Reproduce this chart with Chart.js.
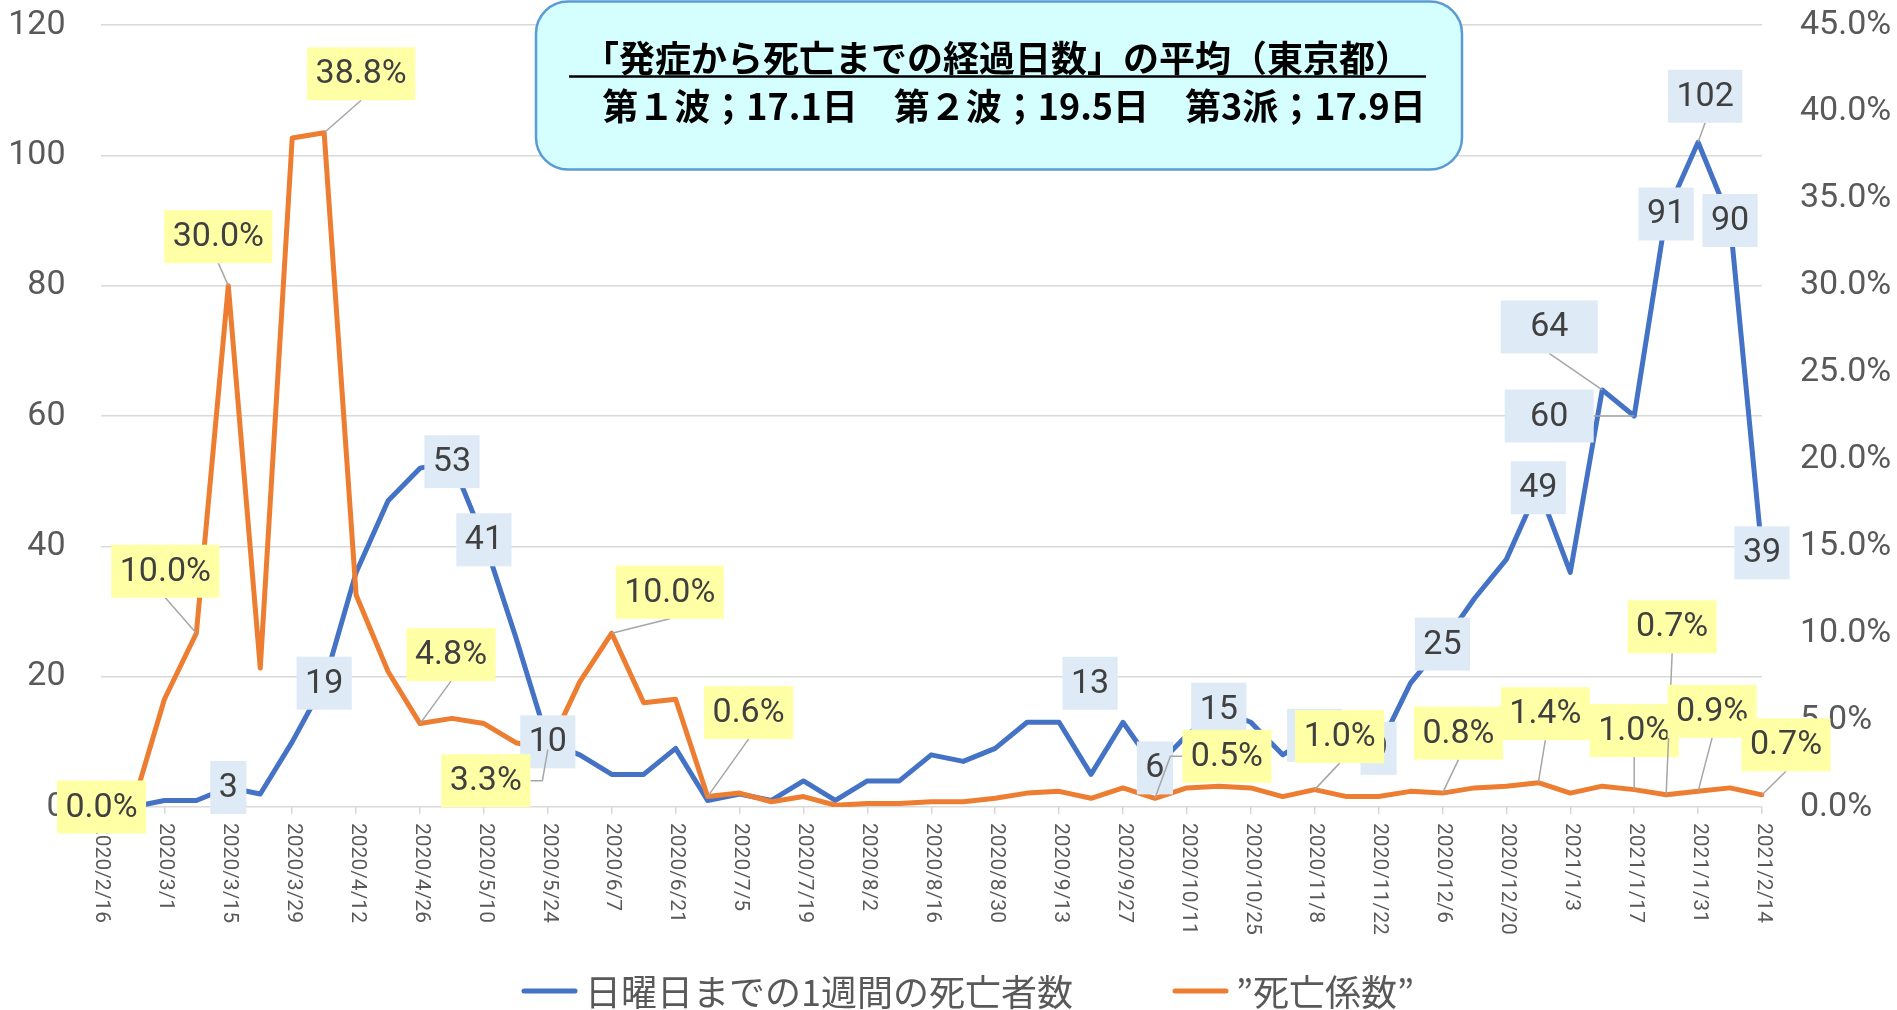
<!DOCTYPE html>
<html>
<head>
<meta charset="utf-8">
<script src="https://cdn.jsdelivr.net/npm/chart.js@4.4.1/dist/chart.umd.min.js"></script>
<style>
html,body{margin:0;padding:0;background:#ffffff;overflow:hidden;}
#wrap{width:1897px;height:1010px;}
</style>
</head>
<body>
<div id="wrap"><canvas id="c" width="1897" height="1010"></canvas></div>
<script>
// ---------- DATA ----------
const categories = [
  '2020/2/16','2020/2/23','2020/3/1','2020/3/8','2020/3/15','2020/3/22','2020/3/29','2020/4/5','2020/4/12','2020/4/19',
  '2020/4/26','2020/5/3','2020/5/10','2020/5/17','2020/5/24','2020/5/31','2020/6/7','2020/6/14','2020/6/21','2020/6/28',
  '2020/7/5','2020/7/12','2020/7/19','2020/7/26','2020/8/2','2020/8/9','2020/8/16','2020/8/23','2020/8/30','2020/9/6',
  '2020/9/13','2020/9/20','2020/9/27','2020/10/4','2020/10/11','2020/10/18','2020/10/25','2020/11/1','2020/11/8','2020/11/15',
  '2020/11/22','2020/11/29','2020/12/6','2020/12/13','2020/12/20','2020/12/27','2021/1/3','2021/1/10','2021/1/17','2021/1/24',
  '2021/1/31','2021/2/7','2021/2/14'
];
// weekly deaths up to Sunday (left axis)
const weeklyDeaths = [
  0,0,1,1,3,2,10,19,36,47,
  52,53,41,26,10,8,5,5,9,1,
  2,1,4,1,4,4,8,7,9,13,
  13,5,13,6,11,15,13,8,11,9,
  9,19,25,32,38,49,36,64,60,91,
  102,90,39
];
// "death coefficient" in percent (right axis)
const deathRatio = [
  0,0,6.2,10.0,30.0,8.0,38.5,38.8,12.2,7.8,
  4.8,5.1,4.8,3.7,3.3,7.2,10.0,6.0,6.2,0.6,
  0.8,0.3,0.6,0.1,0.2,0.2,0.3,0.3,0.5,0.8,
  0.9,0.5,1.1,0.5,1.1,1.2,1.1,0.6,1.0,0.6,
  0.6,0.9,0.8,1.1,1.2,1.4,0.8,1.2,1.0,0.7,
  0.9,1.1,0.7
];
const leftAxisMax = 120, leftAxisStep = 20;
const rightAxisMax = 45, rightAxisStep = 5;
const seriesNames = ['日曜日までの1週間の死亡者数', '”死亡係数”'];
const titleLine1 = '「発症から死亡までの経過日数」の平均（東京都）';
const titleLine2 = '第１波；17.1日　第２波；19.5日　第3派；17.9日';
// which points carry a data label
const deathLabelIdx = [4,7,11,12,14,30,33,35,38,40,42,45,47,48,49,50,51,52];
const ratioLabelIdx = [0,3,4,7,10,14,16,19,33,38,42,45,48,49,50,52];

// ---------- STYLE / PLACEMENT ----------
const BLUE = '#4472C4', ORANGE = '#ED7D31';
const TICK_GREY = '#595959', GRID = '#D9D9D9';
// [dx, dy, leader ('n' none, 'b' bottom, 's' side), fixed box width]
const deathPlace = {
  30: [31,-39,'n'],
  47: [-53,-63,'b',97],
  48: [-85,0,'s',89],
  50: [7,-46,'b']
};
const ratioPlace = {
  0: [1,0,'n'],
  3: [-31,-62,'b'],
  4: [-10,-49,'b'],
  7: [37,-59,'b'],
  10: [31,-69,'b'],
  14: [-62,31,'s'],
  16: [58,-41,'b'],
  19: [41,-84,'b'],
  33: [72,-42,'s'],
  38: [25,-53,'b'],
  42: [16,-60,'b'],
  45: [7,-69,'b'],
  48: [0,-59,'b'],
  49: [6,-168,'b'],
  50: [14,-80,'b'],
  52: [24,-50,'b']
};

function drawLabels(ctx, idxs, values, xs, ys, fill, fmt, place) {
  ctx.save();
  ctx.font = '34px Roboto';
  idxs.forEach(i => {
    const px = xs.getPixelForValue(i), py = ys.getPixelForValue(values[i]);
    const p = place[i] || [0,0,'n'];
    const txt = fmt(values[i]);
    const tw = ctx.measureText(txt).width;
    const w = p[3] || (tw + 17), h = 53;
    const cx = px + p[0], cy = py + p[1];
    const L = cx - w/2, R = cx + w/2, T = cy - h/2, B = cy + h/2;
    ctx.strokeStyle = '#A6A6A6';
    ctx.lineWidth = 1.5;
    if (p[2] === 'b') {
      ctx.beginPath(); ctx.moveTo(cx, B); ctx.lineTo(px, py); ctx.stroke();
    } else if (p[2] === 's') {
      const sx = px > R ? R : L;
      const st = px > R ? sx + 12 : sx - 12;
      ctx.beginPath(); ctx.moveTo(sx, cy); ctx.lineTo(st, cy); ctx.lineTo(px, py); ctx.stroke();
    }
    ctx.fillStyle = fill;
    ctx.fillRect(L, T, w, h);
    ctx.fillStyle = '#404040';
    ctx.textAlign = 'center';
    ctx.textBaseline = 'middle';
    ctx.fillText(txt, cx, cy + 1);
  });
  ctx.restore();
}

const overlay = {
  id: 'overlay',
  afterDraw(chart) {
    const ctx = chart.ctx;
    const xs = chart.scales.x, yL = chart.scales.y, yR = chart.scales.y2;
    // rotated category labels (every second week)
    ctx.save();
    ctx.fillStyle = TICK_GREY;
    ctx.font = '21px Roboto';
    ctx.textAlign = 'left';
    ctx.textBaseline = 'middle';
    categories.forEach((c, i) => {
      if (i % 2) return;
      const px = xs.getPixelForValue(i);
      ctx.save();
      ctx.translate(px + 1, 823);
      ctx.rotate(Math.PI / 2);
      ctx.fillText(c, 0, 0);
      ctx.restore();
    });
    ctx.restore();

    // data labels
    drawLabels(ctx, deathLabelIdx, weeklyDeaths, xs, yL, '#DEEBF7', v => String(v), deathPlace);
    drawLabels(ctx, ratioLabelIdx, deathRatio, xs, yR, '#FFFFA6', v => v.toFixed(1) + '%', ratioPlace);

    // title box
    ctx.save();
    ctx.beginPath();
    ctx.roundRect(536, 1.5, 926, 168, 32);
    ctx.fillStyle = '#D5FFFF';
    ctx.fill();
    ctx.lineWidth = 2.5;
    ctx.strokeStyle = '#5B9BD5';
    ctx.stroke();
    ctx.fillStyle = '#000000';
    ctx.textAlign = 'center';
    ctx.textBaseline = 'middle';
    ctx.font = 'bold 36px "Noto Sans CJK JP"';
    ctx.fillText(titleLine1, 997, 58, 830);
    ctx.beginPath();
    ctx.moveTo(569, 76.5); ctx.lineTo(1426, 76.5);
    ctx.lineWidth = 2.5; ctx.strokeStyle = '#000000'; ctx.stroke();
    ctx.fillText(titleLine2, 1014, 106, 830);
    ctx.restore();

    // legend
    ctx.save();
    const legendItems = [[522, BLUE, seriesNames[0]], [1173, ORANGE, seriesNames[1]]];
    ctx.font = '36px "Noto Sans CJK JP"';
    ctx.textAlign = 'left';
    ctx.textBaseline = 'middle';
    legendItems.forEach(([lx, col, name]) => {
      ctx.beginPath();
      ctx.moveTo(lx + 2, 991); ctx.lineTo(lx + 53, 991);
      ctx.lineWidth = 5; ctx.lineCap = 'round'; ctx.strokeStyle = col; ctx.stroke();
      ctx.fillStyle = TICK_GREY;
      ctx.fillText(name, lx + 63, 992);
    });
    ctx.restore();
  }
};

Chart.defaults.font.family = 'Roboto';

function fixVertical(width) {
  return function (s) {
    s.width = width;
    s.paddingTop = 0;
    s.paddingBottom = 0;
  };
}

new Chart(document.getElementById('c'), {
  type: 'line',
  data: {
    labels: categories,
    datasets: [
      {
        label: seriesNames[0], data: weeklyDeaths, yAxisID: 'y',
        borderColor: BLUE, backgroundColor: BLUE, borderWidth: 5,
        pointRadius: 0, tension: 0, order: 2,
        borderJoinStyle: 'round', borderCapStyle: 'round'
      },
      {
        label: seriesNames[1], data: deathRatio, yAxisID: 'y2',
        borderColor: ORANGE, backgroundColor: ORANGE, borderWidth: 5,
        pointRadius: 0, tension: 0, order: 1,
        borderJoinStyle: 'round', borderCapStyle: 'round'
      }
    ]
  },
  options: {
    responsive: false,
    animation: false,
    devicePixelRatio: 1,
    layout: { padding: { top: 25, left: 0, right: 0, bottom: 0 } },
    plugins: { legend: { display: false }, tooltip: { enabled: false }, title: { display: false } },
    scales: {
      x: {
        type: 'category', offset: false,
        grid: {
          display: true, drawOnChartArea: false, drawTicks: true, tickLength: 7,
          color: c => (c.index % 2 === 0 ? GRID : 'rgba(0,0,0,0)'), lineWidth: 1.5
        },
        border: { display: false },
        ticks: { display: false },
        afterFit(s) { s.height = 203; s.paddingLeft = 0; s.paddingRight = 0; }
      },
      y: {
        position: 'left', min: 0, max: leftAxisMax,
        ticks: { stepSize: leftAxisStep, color: TICK_GREY, font: { family: 'Roboto', size: 34 }, padding: 35 },
        grid: { color: GRID, lineWidth: 1.5, drawTicks: false },
        border: { display: false },
        afterFit: fixVertical(100.5)
      },
      y2: {
        position: 'right', min: 0, max: rightAxisMax,
        ticks: { stepSize: rightAxisStep, color: TICK_GREY, font: { family: 'Roboto', size: 34 }, padding: 38,
                 callback: v => Number(v).toFixed(1) + '%' },
        grid: { drawOnChartArea: false, drawTicks: false },
        border: { display: false },
        afterFit: fixVertical(135)
      }
    }
  },
  plugins: [overlay]
});
</script>
</body>
</html>
